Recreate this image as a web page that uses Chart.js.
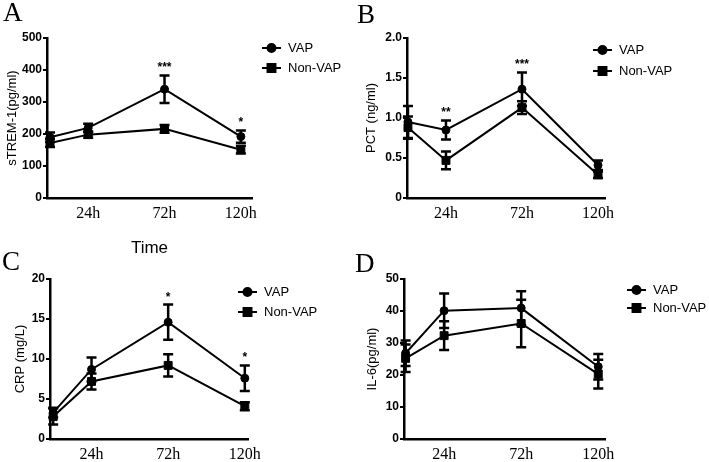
<!DOCTYPE html>
<html>
<head>
<meta charset="utf-8">
<script src="https://cdn.jsdelivr.net/npm/chart.js@4.4.0/dist/chart.umd.min.js"></script>
<style>
  html, body { margin: 0; padding: 0; background: #fff; }
  body { width: 709px; height: 462px; position: relative; overflow: hidden; }
  canvas { position: absolute; }
</style>
</head>
<body>
<canvas id="panelA" width="354" height="262" style="left:0;top:0;width:354px;height:262px"></canvas>
<canvas id="panelB" width="355" height="231" style="left:354px;top:0;width:355px;height:231px"></canvas>
<canvas id="panelC" width="354" height="231" style="left:0;top:231px;width:354px;height:231px"></canvas>
<canvas id="panelD" width="355" height="231" style="left:354px;top:231px;width:355px;height:231px"></canvas>
<script>
// time points (hours) and labelled ticks
const times = [0, 24, 72, 120];
const timeTicks = [24, 72, 120];
const groupNames = ["VAP", "Non-VAP"];

// A: sTREM-1 (pg/ml), mean and error
const stremVap = [190, 219, 340, 192];
const stremVapErr = [15, 13, 43, 19];
const stremNon = [172, 198, 216, 151];
const stremNonErr = [13, 10, 12, 12];
const stremStars = ["", "", "***", "*"];

// B: PCT (ng/ml)
const pctVap = [0.95, 0.85, 1.36, 0.41];
const pctVapErr = [0.2, 0.12, 0.21, 0.06];
const pctNon = [0.88, 0.47, 1.13, 0.29];
const pctNonErr = [0.14, 0.11, 0.08, 0.04];
const pctStars = ["", "**", "***", ""];

// C: CRP (mg/L)
const crpVap = [3.3, 8.7, 14.6, 7.6];
const crpVapErr = [0.6, 1.5, 2.2, 1.6];
const crpNon = [2.8, 7.2, 9.2, 4.1];
const crpNonErr = [1.0, 1.0, 1.4, 0.5];
const crpStars = ["", "", "*", "*"];

// D: IL-6 (pg/ml)
const il6Vap = [26.8, 40.1, 40.9, 22.6];
const il6VapErr = [4, 5.4, 5.3, 4];
const il6Non = [25.2, 32.3, 36.1, 20.3];
const il6NonErr = [4.3, 4.5, 7.4, 4.5];
const il6Stars = ["", "", "", ""];

const SANS = "'Liberation Sans', Arial, sans-serif";
const SERIF = "'Liberation Serif', 'Times New Roman', serif";

// error bars, significance stars, legend and panel letter
const panelDecor = {
  id: "panelDecor",
  afterDatasetsDraw(chart, args, opts) {
    const ctx = chart.ctx;
    const yScale = chart.scales.y;
    ctx.save();
    ctx.strokeStyle = "#000";
    ctx.fillStyle = "#000";
    ctx.lineWidth = 2.5;
    const tops = [];
    chart.data.datasets.forEach((ds, i) => {
      const meta = chart.getDatasetMeta(i);
      meta.data.forEach((pt, j) => {
        const v = ds.data[j].y;
        const e = ds.errors[j];
        const yt = yScale.getPixelForValue(v + e);
        const yb = yScale.getPixelForValue(v - e);
        ctx.beginPath();
        ctx.moveTo(pt.x, yt); ctx.lineTo(pt.x, yb);
        ctx.moveTo(pt.x - 5, yt); ctx.lineTo(pt.x + 5, yt);
        ctx.moveTo(pt.x - 5, yb); ctx.lineTo(pt.x + 5, yb);
        ctx.stroke();
        tops[j] = tops[j] === undefined ? yt : Math.min(tops[j], yt);
      });
    });
    // stars
    const xMeta = chart.getDatasetMeta(0);
    ctx.font = "bold 12px " + SANS;
    ctx.textAlign = "center";
    ctx.textBaseline = "alphabetic";
    opts.stars.forEach((s, j) => {
      if (s) ctx.fillText(s, xMeta.data[j].x, tops[j] - 4);
    });
    // legend
    const lg = opts.legend;
    chart.data.datasets.forEach((ds, i) => {
      const y = lg.ys[i];
      ctx.lineWidth = 2;
      ctx.beginPath();
      ctx.moveTo(lg.x, y); ctx.lineTo(lg.x + 19, y);
      ctx.stroke();
      Chart.helpers.drawPoint(ctx, { pointStyle: ds.pointStyle, radius: ds.pointRadius, borderWidth: 1 }, lg.x + 9.5, y);
      ctx.fill();
      ctx.font = "13px " + SANS;
      ctx.textAlign = "left";
      ctx.textBaseline = "middle";
      ctx.fillText(ds.label, lg.x + 26, y);
    });
    // panel letter
    ctx.font = "27px " + SERIF;
    ctx.textAlign = "left";
    ctx.textBaseline = "alphabetic";
    ctx.fillText(opts.letter, opts.letterPos[0], opts.letterPos[1]);
    ctx.restore();
  }
};

function buildPanel(id, p) {
  const canvas = document.getElementById(id);
  const W = canvas.width, H = canvas.height;
  const series = [
    { values: p.vap, errors: p.vapErr, style: "circle", radius: 4 },
    { values: p.non, errors: p.nonErr, style: "rect", radius: 5.6 }
  ];
  const datasets = series.map((s, i) => ({
    label: groupNames[i],
    data: times.map((t, j) => ({ x: t, y: s.values[j] })),
    errors: s.errors,
    borderColor: "#000",
    backgroundColor: "#000",
    borderWidth: 2,
    pointStyle: s.style,
    pointRadius: s.radius,
    pointBorderWidth: 1,
    tension: 0,
    clip: false
  }));
  return new Chart(canvas, {
    type: "line",
    data: { datasets },
    plugins: [panelDecor],
    options: {
      responsive: false,
      animation: false,
      layout: { padding: { left: 0, top: p.box.top, right: W - p.box.right, bottom: 0 } },
      plugins: {
        legend: { display: false },
        tooltip: { enabled: false },
        panelDecor: { stars: p.stars, legend: p.legend, letter: p.letter, letterPos: p.letterPos }
      },
      scales: {
        x: {
          type: "linear",
          min: p.xRange[0],
          max: p.xRange[1],
          afterBuildTicks: s => { s.ticks = timeTicks.map(v => ({ value: v })); },
          afterFit: s => { s.height = H - p.box.bottom; },
          grid: { display: false, drawTicks: false },
          border: { color: "#000", width: 2.5 },
          ticks: {
            padding: 6, color: "#000", maxRotation: 0, autoSkip: false,
            font: { family: SERIF, size: 16 },
            callback: v => v + "h"
          },
          title: p.xTitle
            ? { display: true, text: p.xTitle, color: "#000", font: { family: SANS, size: 17 }, padding: { top: 0, bottom: 3 } }
            : { display: false }
        },
        y: {
          min: 0,
          max: p.yMax,
          afterFit: s => { s.width = p.box.left; },
          grid: { drawOnChartArea: false, drawTicks: true, tickLength: 4, color: "#000", lineWidth: 2 },
          border: { color: "#000", width: 2.5 },
          ticks: {
            stepSize: p.yStep, padding: 1, color: "#000",
            font: { family: SANS, size: 12, weight: "bold" },
            callback: v => (v === 0 ? "0" : v.toFixed(p.decimals))
          },
          title: {
            display: true, text: p.yTitle, color: "#000",
            font: { family: SANS, size: 13 },
            padding: { top: p.yTitlePad, bottom: 0 }
          }
        }
      }
    }
  });
}

buildPanel("panelA", {
  letter: "A", letterPos: [3, 21],
  yTitle: "sTREM-1(pg/ml)", yMax: 500, yStep: 100, decimals: 0, yTitlePad: 5,
  vap: stremVap, vapErr: stremVapErr, non: stremNon, nonErr: stremNonErr, stars: stremStars,
  box: { left: 47, right: 252, top: 38, bottom: 198 }, xRange: [-1.9, 127],
  legend: { x: 262, ys: [48, 68] }, xTitle: "Time"
});
buildPanel("panelB", {
  letter: "B", letterPos: [3, 23],
  yTitle: "PCT (ng/ml)", yMax: 2, yStep: 0.5, decimals: 1, yTitlePad: 10,
  vap: pctVap, vapErr: pctVapErr, non: pctNon, nonErr: pctNonErr, stars: pctStars,
  box: { left: 53, right: 251, top: 38, bottom: 198 }, xRange: [-0.6, 124.4],
  legend: { x: 239, ys: [50, 71] }
});
buildPanel("panelC", {
  letter: "C", letterPos: [2, 39],
  yTitle: "CRP (mg/L)", yMax: 20, yStep: 5, decimals: 0, yTitlePad: 13,
  vap: crpVap, vapErr: crpVapErr, non: crpNon, nonErr: crpNonErr, stars: crpStars,
  box: { left: 50, right: 248, top: 48, bottom: 208 }, xRange: [-2, 122],
  legend: { x: 238, ys: [61, 81] }
});
buildPanel("panelD", {
  letter: "D", letterPos: [1, 41],
  yTitle: "IL-6(pg/ml)", yMax: 50, yStep: 10, decimals: 0, yTitlePad: 11,
  vap: il6Vap, vapErr: il6VapErr, non: il6Non, nonErr: il6NonErr, stars: il6Stars,
  box: { left: 50, right: 251, top: 48, bottom: 208 }, xRange: [-1, 124.2],
  legend: { x: 273, ys: [59, 77] }
});
</script>
</body>
</html>
